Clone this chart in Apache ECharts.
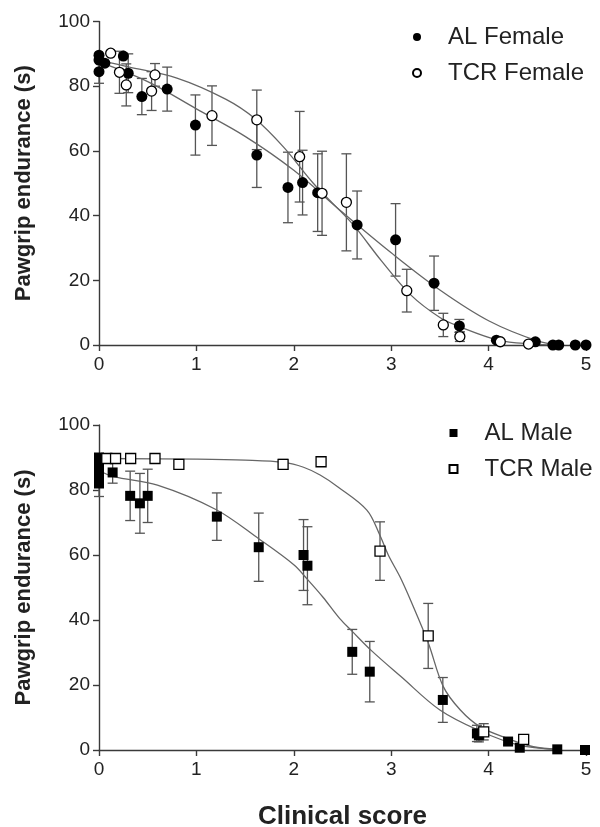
<!DOCTYPE html>
<html><head><meta charset="utf-8">
<script src="https://cdn.jsdelivr.net/npm/echarts@6/dist/echarts.min.js"></script>
<style>html,body{margin:0;padding:0;background:#fff}#c{width:600px;height:827px}</style>
</head><body><div id="c"></div>
<script>
// ---- Data ----
// Top panel: females. Each point: [clinical score, endurance, sem]
const alFemale = [
  [0,89.6,0],[0,88.1,0],[0,84.5,3.6],[0.06,87.1,0],[0.25,89.3,0],[0.30,84,6],
  [0.44,76.8,5.6],[0.70,79.1,6.8],[0.99,68,9.3],[1.62,58.7,10],[1.94,48.7,10.9],
  [2.09,50.2,10],[2.245,47.1,12],[2.65,37.1,10.5],[3.045,32.5,11.2],[3.44,19.1,8.4],
  [3.70,5.9,2],[4.08,1.5,0],[4.48,1.0,0],[4.66,0,0],[4.72,0,0],[4.89,0,0],[5.0,0,0]
];
const tcrFemale = [
  [0.12,90.2,0],[0.21,84.3,6.5],[0.28,80.4,6.5],[0.54,78.5,6],[0.575,83.5,3.5],
  [1.16,70.9,9.2],[1.62,69.6,9.2],[2.06,58.2,14],[2.29,46.9,13],[2.54,44.1,15],
  [3.16,16.8,6.6],[3.535,6.2,3.6],[3.705,2.6,1.5],[4.12,1.0,0],[4.41,0.3,0]
];
// Fitted curves
const alFemaleFit = [
  [0,87.5],[0.5,81.4],[1.0,73],[1.5,64.5],[2.0,54],[2.5,41],[3.0,28.5],
  [3.5,17],[4.0,7.5],[4.5,1.3],[4.75,0]
];
const tcrFemaleFit = [
  [0,88],[0.3,86],[0.8,82.5],[1.3,76],[1.6,70],[1.9,61],[2.2,50],[2.6,37.5],
  [2.9,26],[3.2,15.5],[3.5,8.5],[3.7,5.7],[4.1,1.5],[4.45,0.3],[4.7,0]
];
// Bottom panel: males
const alMale = [
  [0,90,0],[0,88,0],[0,86,0],[0,84,0],[0,82,4],[0.14,85.4,3.3],[0.32,78.2,7.6],
  [0.42,75.9,9.2],[0.50,78.2,8.2],[1.21,71.8,7.3],[1.64,62.4,10.5],[2.10,60,10.9],
  [2.14,56.7,12],[2.60,30.2,6.9],[2.78,24.1,9.3],[3.53,15.4,6.9],[3.88,5.1,2.5],
  [3.90,4.5,2],[4.20,2.6,1],[4.32,0.7,0],[4.705,0.2,0],[4.99,0,0]
];
const tcrMale = [
  [0.08,89.7,0],[0.17,89.7,0],[0.325,89.7,0],[0.575,89.7,0],[0.82,87.9,0],
  [1.89,87.9,1.5],[2.28,88.7,0],[2.885,61.2,9],[3.38,35.1,10],[3.95,5.6,2.5],[4.36,3.3,1]
];
const alMaleFit = [
  [0,86],[0.15,84.1],[0.6,81.5],[1.2,74],[1.64,65],[2.0,57],[2.14,52.5],[2.3,47],
  [2.47,40.5],[2.6,36.5],[2.8,30.5],[3.1,22.6],[3.5,12.3],[3.9,6],[4.3,1.6],[4.7,0.2]
];
const tcrMaleFit = [
  [0,89.7],[1.0,89.5],[1.5,89.2],[1.9,88.5],[2.1,87],[2.27,84.6],[2.45,81],
  [2.75,73.8],[2.885,66],[2.97,60],[3.09,53.3],[3.2,46],[3.38,33],[3.535,19.5],
  [3.71,12.3],[3.91,7.2],[4.19,3.6],[4.46,1],[4.7,0.2]
];
const xTicks = [0,1,2,3,4,5];
const yTicks = [0,20,40,60,80,100];
const legendTop = ['AL Female','TCR Female'];
const legendBottom = ['AL Male','TCR Male'];

// ---- Chart ----
const FONT = 'Liberation Sans, Arial, sans-serif';
const AX = '#3a3a3a';
function xAxisCfg(gi, withName){
  return {
    type:'value', gridIndex:gi, min:xTicks[0], max:xTicks[xTicks.length-1], interval:1,
    axisLine:{show:true,onZero:false,lineStyle:{color:AX,width:1.4}},
    axisTick:{show:true,inside:false,length:6,lineStyle:{color:AX,width:1.4}},
    axisLabel:{color:'#222',fontSize:19,fontFamily:FONT,margin:10},
    splitLine:{show:false},
    name: withName ? 'Clinical score' : '',
    nameLocation:'middle', nameGap:54,
    nameTextStyle:{color:'#222',fontSize:26,fontWeight:'bold',fontFamily:FONT}
  };
}
function yAxisCfg(gi){
  return {
    type:'value', gridIndex:gi, min:yTicks[0], max:yTicks[yTicks.length-1], interval:20,
    axisLine:{show:true,onZero:false,lineStyle:{color:AX,width:1.4}},
    axisTick:{show:true,inside:false,length:6,lineStyle:{color:AX,width:1.4}},
    axisLabel:{color:'#222',fontSize:19,fontFamily:FONT,margin:9},
    splitLine:{show:false},
    name:'Pawgrip endurance (s)', nameLocation:'middle', nameGap:64, nameRotate:90,
    nameTextStyle:{color:'#222',fontSize:22,fontWeight:'bold',fontFamily:FONT}
  };
}
function errSeries(data, gi){
  return {
    type:'custom', xAxisIndex:gi, yAxisIndex:gi, silent:true, z:1,
    data: data.filter(d=>d[2]>0).map(d=>[d[0], d[1]-d[2], d[1]+d[2]]),
    encode:{x:0,y:[1,2]},
    renderItem:function(params, api){
      const x=api.value(0), lo=api.value(1), hi=api.value(2);
      const a=api.coord([x,lo]), b=api.coord([x,hi]);
      const w=5, st={stroke:'#555',lineWidth:1.3};
      return {type:'group',children:[
        {type:'line',shape:{x1:a[0],y1:a[1],x2:b[0],y2:b[1]},style:st},
        {type:'line',shape:{x1:a[0]-w,y1:a[1],x2:a[0]+w,y2:a[1]},style:st},
        {type:'line',shape:{x1:b[0]-w,y1:b[1],x2:b[0]+w,y2:b[1]},style:st}
      ]};
    }
  };
}
function fitSeries(data, gi){
  return {type:'line', xAxisIndex:gi, yAxisIndex:gi, data:data, smooth:0.35,
    showSymbol:false, silent:true, z:2, lineStyle:{color:'#666',width:1.3}};
}
function ptSeries(name, data, gi, symbol, size, open){
  return {type:'scatter', name:name, xAxisIndex:gi, yAxisIndex:gi, z:3,
    data:data.map(d=>[d[0],d[1]]), symbol:symbol, symbolSize:size,
    itemStyle: open ? {color:'#fff',borderColor:'#000',borderWidth:1.3,opacity:1}
                    : {color:'#000',borderColor:'#000',borderWidth:0,opacity:1}};
}
const legendBase = {orient:'vertical', itemWidth:8, itemHeight:8, itemGap:12,
  textStyle:{fontSize:24,fontFamily:FONT,color:'#222',padding:[0,0,0,22]},
  selectedMode:false};

const chart = echarts.init(document.getElementById('c'), null, {renderer:'canvas'});
chart.setOption({
  animation:false,
  backgroundColor:'#fff',
  grid:[
    {left:99, top:21.5, width:487, height:323.5, containLabel:false, outerBoundsMode:'none'},
    {left:99, top:425, width:487, height:325, containLabel:false, outerBoundsMode:'none'}
  ],
  xAxis:[xAxisCfg(0,false), xAxisCfg(1,true)],
  yAxis:[yAxisCfg(0), yAxisCfg(1)],
  legend:[
    Object.assign({}, legendBase, {data:legendTop, left:407, top:20}),
    Object.assign({}, legendBase, {data:legendBottom, left:443.5, top:416})
  ],
  series:[
    errSeries(alFemale,0), errSeries(tcrFemale,0),
    fitSeries(alFemaleFit,0), fitSeries(tcrFemaleFit,0),
    ptSeries(legendTop[0], alFemale, 0, 'circle', 11, false),
    ptSeries(legendTop[1], tcrFemale, 0, 'circle', 10, true),
    errSeries(alMale,1), errSeries(tcrMale,1),
    fitSeries(alMaleFit,1), fitSeries(tcrMaleFit,1),
    ptSeries(legendBottom[0], alMale, 1, 'rect', 10, false),
    ptSeries(legendBottom[1], tcrMale, 1, 'rect', 10, true)
  ]
});
</script></body></html>
